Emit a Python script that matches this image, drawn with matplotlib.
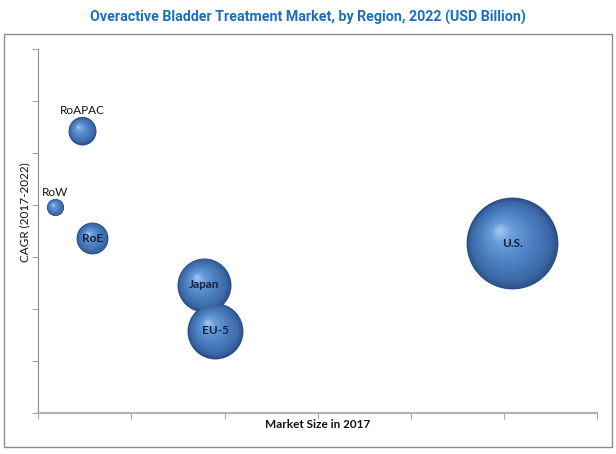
"""
Overactive bladder treatment market bubble chart (by region, 2022).
Bubbles: x = market size in 2017, y = CAGR 2017-2022, area = 2022 market size.
"""
import numpy as np
import matplotlib
matplotlib.use("Agg")
import matplotlib.pyplot as plt
from matplotlib.colors import LinearSegmentedColormap
from matplotlib.patches import Rectangle
from matplotlib.transforms import offset_copy

# ---- data (axis units: no tick labels in the original) ----
regions = ["RoW", "RoAPAC", "RoE", "Japan", "EU-5", "U.S."]
market_2017 = [0.18, 0.47, 0.58, 1.78, 1.90, 5.09]
cagr = [3.96, 5.43, 3.36, 2.46, 1.58, 3.26]
market_2022 = [0.15, 0.40, 0.52, 1.49, 1.60, 4.32]

X_MAX, Y_MAX = 6, 7
LABEL_ABOVE = {"RoW", "RoAPAC"}

W, H, DPI = 616, 454, 100
fig = plt.figure(figsize=(W / DPI, H / DPI), dpi=DPI)
ax = fig.add_axes([38.3 / W, (H - 412.7) / H, (597 - 38.3) / W, (412.7 - 49) / H])

# outer chart border
fig.patches.append(Rectangle((3.5 / W, (H - 447) / H), 608 / W, 413.5 / H,
                             transform=fig.transFigure, fill=False,
                             edgecolor="#8c8c8c", linewidth=1.0))

sphere = LinearSegmentedColormap.from_list(
    "sphere", [(0.0, "#2a4f86"), (0.12, "#3b68a6"), (0.4, "#4b7ec0"),
               (0.75, "#679cda"), (1.0, "#a9cdf3")])

N_LAYERS = 36
px_per_pt = DPI / 72.0
for name, x, y, v in zip(regions, market_2017, cagr, market_2022):
    r_px = 22.1 * np.sqrt(v)          # bubble radius in pixels
    r_pt = r_px / px_per_pt
    hx, hy = -0.3 * r_pt, 0.3 * r_pt  # highlight offset (points)
    for k in range(N_LAYERS):
        t = k / N_LAYERS
        rk = r_pt * (1 - t)
        tr = offset_copy(ax.transData, fig=fig, x=hx * t, y=hy * t, units="points")
        ax.scatter([x], [y], s=(2 * rk) ** 2, color=sphere(t), linewidths=0,
                   transform=tr, zorder=2 + k * 0.01, clip_on=False)
    if name in LABEL_ABOVE:
        tr = offset_copy(ax.transData, fig=fig, x=0, y=r_pt + 0.3, units="points")
        ax.text(x, y, name, transform=tr, ha="center", va="bottom",
                fontsize=8.5, family=["Lato", "DejaVu Sans"], color="#111111", zorder=5)
    else:
        ax.text(x, y, name, ha="center", va="center", fontsize=8.5,
                family=["Lato", "DejaVu Sans"], fontweight="bold",
                color="#13213d", zorder=5)

ax.set_xlim(0, X_MAX)
ax.set_ylim(0, Y_MAX)
ax.set_xticks(range(X_MAX + 1))
ax.set_yticks(range(Y_MAX + 1))
ax.set_xticklabels([])
ax.set_yticklabels([])
ax.tick_params(direction="out", length=4, width=0.8, color="#a6a6a6")
for side in ("top", "right"):
    ax.spines[side].set_visible(False)
ax.spines["left"].set_color("#8c8c8c")
ax.spines["bottom"].set_color("#b3b3b3")
ax.spines["bottom"].set_linewidth(1.6)
ax.patch.set_alpha(0)

fig.text(308 / W, 1 - 17 / H, "Overactive Bladder Treatment Market, by Region, 2022 (USD Billion)",
         ha="center", va="center", fontsize=10.3, fontweight="bold",
         family=["Liberation Sans Narrow", "Roboto", "DejaVu Sans"], color="#1f6fb8")
fig.text(318 / W, 1 - 424 / H, "Market Size in 2017", ha="center", va="center",
         fontsize=8.5, family=["Lato", "DejaVu Sans"], fontweight="bold", color="#111111")
fig.text(25 / W, 1 - 212 / H, "CAGR (2017-2022)", ha="center", va="center", rotation=90,
         fontsize=8.5, family=["Lato", "DejaVu Sans"], color="#111111")

fig.savefig("out.png", dpi=DPI)
